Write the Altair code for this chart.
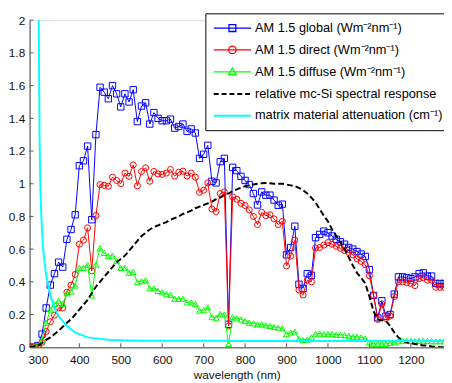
import altair as alt
import pandas as pd

wavelength = [280, 290, 300, 310, 320, 330, 340, 350, 360, 370, 380, 390, 400, 410, 420, 430, 440, 450, 460, 470,
              480, 490, 500, 510, 520, 530, 540, 550, 560, 570, 580, 590, 600, 610, 620, 630, 640, 650, 660, 670,
              680, 690, 700, 710, 720, 730, 740, 750, 760, 770, 780, 790, 800, 810, 820, 830, 840, 850, 860, 870,
              880, 890, 900, 910, 920, 930, 940, 950, 960, 970, 980, 990, 1000, 1010, 1020, 1030, 1040, 1050, 1060, 1070,
              1080, 1090, 1100, 1110, 1120, 1130, 1140, 1150, 1160, 1170, 1180, 1190, 1200, 1210, 1220, 1230, 1240, 1250, 1260, 1270,
              1280]

am_global = [0.00, 0.00, 0.01, 0.08, 0.24, 0.38, 0.45, 0.52, 0.49, 0.66, 0.72, 0.81, 1.11, 1.14, 1.23, 0.78, 1.30, 1.59, 1.56, 1.52,
             1.60, 1.55, 1.47, 1.55, 1.50, 1.575, 1.38, 1.475, 1.495, 1.365, 1.435, 1.40, 1.385, 1.385, 1.395, 1.34, 1.35, 1.365, 1.32, 1.335,
             1.31, 1.155, 1.18, 1.235, 1.015, 1.005, 1.135, 1.155, 0.14, 1.10, 1.08, 1.045, 1.02, 0.995, 0.94, 0.87, 0.95, 0.93, 0.93, 0.90,
             0.868, 0.875, 0.565, 0.61, 0.74, 0.385, 0.36, 0.45, 0.44, 0.67, 0.69, 0.71, 0.70, 0.68, 0.66, 0.645, 0.63, 0.61, 0.60, 0.585,
             0.57, 0.555, 0.475, 0.317, 0.18, 0.284, 0.19, 0.20, 0.325, 0.43, 0.43, 0.425, 0.42, 0.43, 0.45, 0.455, 0.435, 0.435, 0.39, 0.39,
             0.39]

am_direct = [0.00, 0.00, 0.00, 0.03, 0.096, 0.156, 0.196, 0.24, 0.24, 0.336, 0.38, 0.445, 0.63, 0.655, 0.73, 0.467, 0.805, 0.995, 0.99, 0.985,
             1.04, 1.02, 1.00, 1.065, 1.045, 1.115, 0.987, 1.075, 1.097, 1.015, 1.075, 1.06, 1.057, 1.065, 1.087, 1.047, 1.07, 1.077, 1.047, 1.065,
             1.04, 0.947, 0.96, 1.005, 0.845, 0.83, 0.94, 0.95, 0.13, 0.92, 0.905, 0.88, 0.867, 0.84, 0.80, 0.75, 0.825, 0.805, 0.81, 0.785,
             0.75, 0.77, 0.497, 0.557, 0.655, 0.35, 0.32, 0.41, 0.40, 0.607, 0.61, 0.625, 0.64, 0.63, 0.617, 0.605, 0.59, 0.58, 0.565, 0.54,
             0.525, 0.505, 0.437, 0.317, 0.17, 0.264, 0.176, 0.19, 0.31, 0.40, 0.40, 0.395, 0.39, 0.377, 0.42, 0.425, 0.41, 0.41, 0.366, 0.366,
             0.366]

am_diffuse = [0.00, 0.005, 0.01, 0.046, 0.15, 0.23, 0.264, 0.284, 0.264, 0.33, 0.34, 0.377, 0.485, 0.485, 0.505, 0.316, 0.505, 0.605, 0.577, 0.557,
              0.56, 0.527, 0.485, 0.487, 0.455, 0.46, 0.397, 0.404, 0.41, 0.36, 0.36, 0.344, 0.336, 0.324, 0.32, 0.296, 0.296, 0.296, 0.274, 0.274,
              0.264, 0.224, 0.226, 0.244, 0.184, 0.18, 0.204, 0.20, 0.02, 0.184, 0.176, 0.17, 0.16, 0.15, 0.146, 0.14, 0.14, 0.134, 0.13, 0.124,
              0.12, 0.116, 0.08, 0.09, 0.096, 0.05, 0.044, 0.046, 0.06, 0.08, 0.084, 0.08, 0.08, 0.08, 0.076, 0.076, 0.074, 0.07, 0.064, 0.064,
              0.06, 0.054, 0.03, 0.02, 0.02, 0.02, 0.02, 0.026, 0.03, 0.036, 0.04, 0.038, 0.038, 0.036, 0.038, 0.04, 0.038, 0.036, 0.036, 0.036,
              0.036]

si_response = [0.00, 0.005, 0.01, 0.025, 0.045, 0.06, 0.08, 0.10, 0.125, 0.15, 0.17, 0.20, 0.23, 0.26, 0.29, 0.33, 0.37, 0.40, 0.43, 0.46,
               0.49, 0.52, 0.54, 0.56, 0.59, 0.62, 0.65, 0.68, 0.70, 0.72, 0.735, 0.745, 0.755, 0.765, 0.78, 0.79, 0.80, 0.815, 0.825, 0.835,
               0.85, 0.86, 0.87, 0.88, 0.89, 0.905, 0.915, 0.93, 0.94, 0.955, 0.965, 0.975, 0.985, 0.99, 0.995, 1.0, 1.003, 1.005, 1.003, 1.0,
               1.0, 1.0, 0.995, 0.99, 0.985, 0.975, 0.96, 0.94, 0.915, 0.885, 0.845, 0.805, 0.77, 0.72, 0.68, 0.64, 0.60, 0.55, 0.50, 0.455,
               0.425, 0.39, 0.31, 0.22, 0.17, 0.165, 0.16, 0.13, 0.09, 0.06, 0.04, 0.03, 0.025, 0.02, 0.015, 0.01, 0.01, 0.005, 0.003, 0.0,
               0.0]

att_wavelength = [300, 302, 304, 306, 308, 310, 312, 316, 320, 325, 330, 340, 350, 360, 370, 380, 390, 400, 420, 440,
                  470, 500, 550, 600, 700, 800, 900, 1000, 1100, 1200, 1280]
att_value = [4.0, 2.0, 1.3, 0.98, 0.82, 0.71, 0.62, 0.52, 0.44, 0.38, 0.32, 0.24, 0.19, 0.16, 0.13, 0.11, 0.09, 0.08, 0.06, 0.054,
             0.046, 0.043, 0.04, 0.04, 0.039, 0.038, 0.038, 0.038, 0.038, 0.038, 0.038]

series_names = ["AM 1.5 global (Wm\u207b\u00b2nm\u207b\u00b9)",
                "AM 1.5 direct (Wm\u207b\u00b2nm\u207b\u00b9)",
                "AM 1.5 diffuse (Wm\u207b\u00b2nm\u207b\u00b9)",
                "relative mc-Si spectral response",
                "matrix material attenuation (cm\u207b\u00b9)"]
series_colors = ["#0000ff", "#ff0000", "#00ff00", "#000000", "#00ffff"]
x_ticks = [300, 400, 500, 600, 700, 800, 900, 1000, 1100, 1200]
y_ticks = [0, 0.2, 0.4, 0.6, 0.8, 1.0, 1.2, 1.4, 1.6, 1.8, 2.0]

rows = []
for vals, name in zip([am_global, am_direct, am_diffuse, si_response], series_names[:4]):
    for w, v in zip(wavelength, vals):
        rows.append({"wl": w, "v": v, "series": name})
for w, v in zip(att_wavelength, att_value):
    rows.append({"wl": w, "v": v, "series": series_names[4]})
df = pd.DataFrame(rows)

shape_expr = ("datum.index === 0 ? 'M-3,0H3M-0.55,-0.55H0.55V0.55H-0.55Z' : "
              "datum.index === 1 ? 'M-3,0H3M0.6,0A0.6,0.6 0 1,1 -0.6,0A0.6,0.6 0 1,1 0.6,0Z' : "
              "datum.index === 2 ? 'M-3,0H3M0,-0.62L0.6,0.45L-0.6,0.45Z' : 'M-3,0H3M-3,0.11H3'")

legend = alt.Legend(
    title=None, orient="none", legendX=179, legendY=-7, direction="vertical",
    padding=8, strokeColor="black", fillColor="white",
    symbolSize=160, symbolOffset=12.5, labelOffset=16,
    symbolType=alt.ExprRef(expr=shape_expr),
    symbolDash=alt.ExprRef(expr="datum.index === 3 ? [5, 3] : []"),
    symbolFillColor="transparent", symbolOpacity=1, symbolStrokeWidth=1.3,
    labelFont="Liberation Sans", labelFontSize=13, labelColor="black", labelLimit=300,
    rowPadding=8.25,
)

color = alt.Color("series:N", scale=alt.Scale(domain=series_names, range=series_colors),
                  sort=series_names, legend=legend)

x = alt.X("wl:Q", scale=alt.Scale(domain=[280, 1280], nice=False, zero=False),
          axis=alt.Axis(values=x_ticks, tickCount=12, format="d", grid=False, title="wavelength (nm)", ticks=False,
                        domainColor="#7a7a7a", domainWidth=1.5, labelOverlap=False,
                        labelPadding=8, labelFontSize=12, labelColor="#111", titleFontSize=12,
                        titleFontWeight="normal", titleColor="#111",
                        titleY=31.5, titleBaseline="alphabetic"))
y = alt.Y("v:Q", scale=alt.Scale(domain=[0, 2], nice=False),
          axis=alt.Axis(values=y_ticks, tickCount=12, format="~g", grid=False, title=None, ticks=False,
                        domainColor="#7a7a7a", domainWidth=1.5, labelOverlap=False,
                        labelPadding=5, labelFontSize=12, labelColor="#111"))

base = alt.Chart(df)


def filt(i):
    return base.transform_filter(alt.datum.series == series_names[i])


# inward axis ticks, drawn at the tick values through the same data scales
xtick_df = pd.DataFrame({"wl": x_ticks})
ytick_df = pd.DataFrame({"v": y_ticks})
xticks = alt.Chart(xtick_df).mark_rule(color="#555", strokeWidth=1).encode(
    x=x, y=alt.datum(0), y2=alt.datum(0.024))
yticks = alt.Chart(ytick_df).mark_rule(color="#555", strokeWidth=1).encode(
    y=y, x=alt.datum(280), x2=alt.datum(289.5))

layers = [
    filt(0).mark_line(clip=True, strokeWidth=1).encode(x=x, y=y, color=color),
    filt(0).mark_point(clip=True, shape="square", filled=False, size=42, strokeWidth=1, opacity=1).encode(x=x, y=y, color=color),
    filt(1).mark_line(clip=True, strokeWidth=1).encode(x=x, y=y, color=color),
    filt(1).mark_point(clip=True, shape="circle", filled=False, size=38, strokeWidth=1, opacity=1).encode(x=x, y=y, color=color),
    filt(2).mark_line(clip=True, strokeWidth=1).encode(x=x, y=y, color=color),
    filt(2).mark_point(clip=True, shape="triangle-up", filled=False, size=36, strokeWidth=1, opacity=1).encode(x=x, y=y, color=color),
    filt(3).mark_line(clip=True, strokeWidth=2, strokeDash=[6, 3]).encode(x=x, y=y, color=color),
    filt(4).mark_line(clip=True, strokeWidth=2).encode(x=x, y=y, color=color),
    xticks,
    yticks,
]

chart = alt.layer(*layers).properties(
    width=422, height=333,
    padding={"left": 22, "top": 9, "right": 0, "bottom": 33},
    autosize=alt.AutoSizeParams(type="none"),
).configure_view(stroke=None).configure(font="Liberation Sans")

chart.save("out.html", embed_options={"renderer": "svg", "actions": False})
